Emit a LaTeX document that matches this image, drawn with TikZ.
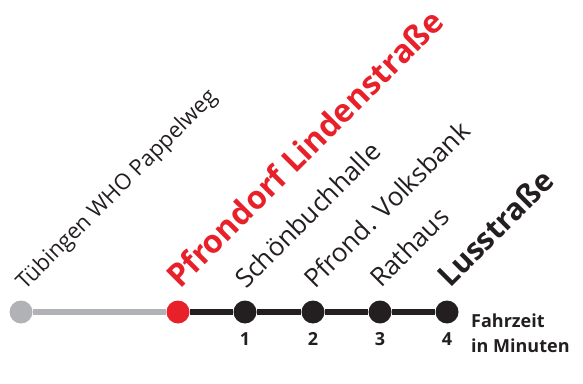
\documentclass[tikz,border=0pt]{standalone}
\usepackage{fontspec}
\setmainfont{Open Sans}
\definecolor{linered}{HTML}{E8202A}
\definecolor{linegray}{HTML}{B1B2B5}
\definecolor{lineblack}{HTML}{231F20}
\begin{document}
\begin{tikzpicture}[x=1pt, y=1pt,
  halt/.style={circle, fill=lineblack, minimum size=23pt, inner sep=0pt},
  haltname/.style={anchor=base west, rotate=45, inner sep=0pt, text=lineblack, font=\fontsize{26}{30}\selectfont},
  haltbig/.style={haltname, font=\fontsize{30}{34}\selectfont\bfseries},
  minuten/.style={anchor=north, inner sep=0pt, text=lineblack, font=\fontsize{18}{20}\selectfont\bfseries}]
			\useasboundingbox (0,0) rectangle (583,383);
			
			% Stations
			\node[halt, fill=linegray] (S0) at (21,71) {};
			\node[halt, fill=linered] (S1) at (178,71) {};
			\node[halt] (S2) at (245,71) {};
			\node[halt] (S3) at (313,71) {};
			\node[halt] (S4) at (380,71) {};
			\node[halt] (S5) at (447,71) {};
			
			% Line
			\draw[line width=5.5pt, linegray] (S0) -- (S1);
			\draw[line width=5.5pt, lineblack] (S1) -- (S2) -- (S3) -- (S4) -- (S5);
			
			% Names
			\node[haltname, font=\fontsize{22}{26}\selectfont] (N0) at (25,92) {Tübingen WHO Pappelweg};
			\node[haltbig, text=linered, font=\fontsize{32}{36}\selectfont\bfseries] (N1) at (180,93) {Pfrondorf Lindenstraße};
			\node[haltname] (N2) at (246,93) {Schönbuchhalle};
			\node[haltname] (N3) at (315,93) {Pfrond. Volksbank};
			\node[haltname] (N4) at (381,94) {Rathaus};
			\node[haltbig] (N5) at (450,94) {Lusstraße};
			
			% Travel time
			\node[minuten] (M2) at (245,51) {1};
			\node[minuten] (M3) at (313,51) {2};
			\node[minuten] (M4) at (380,51) {3};
			\node[minuten] (M5) at (447,51) {4};
			\node[anchor=base west, inner sep=0pt, align=left, text=lineblack, font=\fontsize{18}{25}\selectfont\bfseries] (F) at (471,31) {Fahrzeit\\in Minuten};
		\end{tikzpicture}
\end{document}
